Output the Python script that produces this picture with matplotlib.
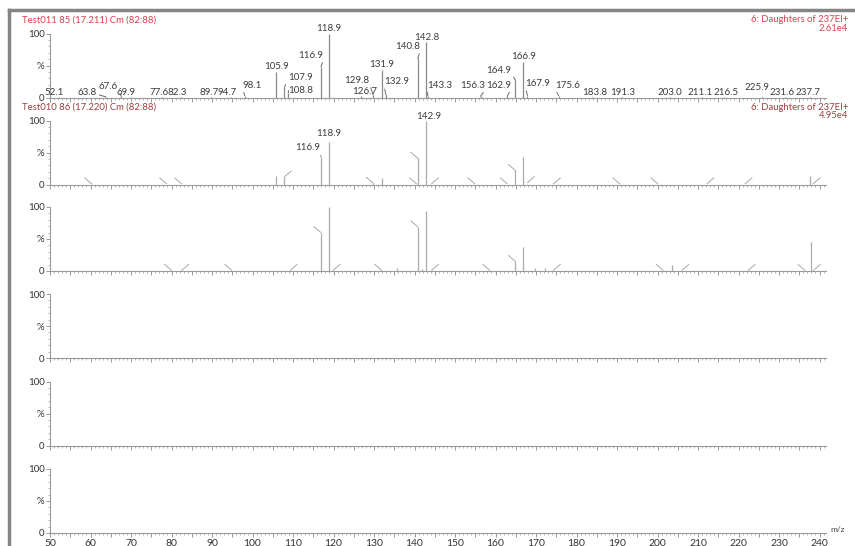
import matplotlib
matplotlib.use('Agg')
import matplotlib.pyplot as plt
from matplotlib.ticker import MultipleLocator, FuncFormatter
from matplotlib.lines import Line2D

plt.rcParams['font.family'] = ['Lato', 'DejaVu Sans']

# ---- data: panel 1 (Test011 85), labelled spectrum ----
p1_mz = [52.1, 63.8, 67.6, 69.9, 77.6, 82.3, 89.7, 94.7, 98.1, 105.9, 107.9, 108.8,
         116.9, 118.9, 126.7, 129.8, 131.9, 132.9, 140.8, 142.8, 143.3, 156.3, 162.9,
         164.9, 166.9, 167.9, 175.6, 183.8, 191.3, 203.0, 211.1, 216.5, 225.9, 231.6, 237.7]
p1_int = [1, 1, 2, 1, 1, 1, 1, 1, 3, 40, 16, 7,
          48, 100, 2, 4, 43, 5, 61, 86, 3, 2, 2,
          27, 55, 3, 3, 1, 1, 1, 1, 1, 1, 1, 1]
p1_labels = ['52.1', '63.8', '67.6', '69.9', '77.6', '82.3', '89.7', '94.7', '98.1', '105.9',
             '107.9', '108.8', '116.9', '118.9', '126.7', '129.8', '131.9', '132.9', '140.8',
             '142.8', '143.3', '156.3', '162.9', '164.9', '166.9', '167.9', '175.6', '183.8',
             '191.3', '203.0', '211.1', '216.5', '225.9', '231.6', '237.7']

# ---- panel 2 (Test010 86) ----
p2_mz = [105.9, 107.9, 116.9, 118.9, 129.8, 131.9, 140.8, 142.9, 164.9, 166.9, 237.7]
p2_int = [14, 12, 43, 67, 2, 10, 41, 100, 22, 43, 14]
p2_labels = {116.9: '116.9', 118.9: '118.9', 142.9: '142.9'}
lead2_mz = [60.3, 78.8, 82.5, 107.9, 129.8, 140.8, 140.5, 144.2, 154.9, 162.9, 164.9,
            167.9, 174.3, 190.7, 200.1, 212.2, 221.6, 238.4]
lead2_int = [1, 1, 1, 12, 2, 41, 1, 1, 1, 1, 22, 3, 1, 1, 1, 1, 1, 1]
lead2_dir = [-1, -1, -1, 1, -1, -1, -1, 1, -1, -1, -1, 1, 1, -1, -1, 1, 1, 1]

# ---- panel 3 ----
p3_mz = [116.9, 118.9, 135.8, 140.8, 141.8, 142.8, 164.9, 166.9, 169.8, 172.2, 203.5, 237.8]
p3_int = [60, 100, 5, 69, 3, 94, 15, 37, 4, 5, 10, 46]
lead3_mz = [80.0, 82.5, 94.9, 109.3, 116.9, 119.9, 131.9, 140.8, 144.2, 158.6, 164.9,
            174.3, 201.4, 206.0, 222.4, 236.4, 238.5]
lead3_int = [1, 1, 1, 1, 60, 1, 1, 69, 1, 1, 15, 1, 1, 1, 1, 1, 1]
lead3_dir = [-1, 1, -1, 1, -1, 1, -1, -1, 1, -1, -1, 1, -1, 1, 1, -1, 1]

x_ticks = list(range(50, 241, 10))

# label placement for panel 1: offset (px) of label centre from peak top, leader anchor
p1_offsets = [(-4, 4.5, None), (-19, 4.5, (1, 0.3)), (-13, 10, (1, 0.2)), (-5, 4.5, None),
              (-3, 4.5, None), (-4, 4.5, None), (-2, 4.5, None), (-4, 4.5, None),
              (7, 10.5, (0, 0.2)), (0, 5, None), (16, 10, (0, 0.5)), (13, 2.5, (0, 0.5)),
              (-10, 11.5, (1, 0)), (0, 5, None), (4, 4.5, None), (-16, 14.5, (1, 0)),
              (0, 5, None), (11, 12.5, (0, 0)), (-10, 12, (1, 0)), (1, 5, None),
              (12, 10.5, (0, 0)), (-7.5, 11, (1, 0)), (-9, 11, (1, 0)), (-17, 10, (1, 0.3)),
              (0, 5.5, None), (10.5, 12, (0, 0)), (9, 10.5, (0, 0)), (3, 4.5, None),
              (0, 4.5, None), (0, 4.5, None), (-2, 4.5, None), (2, 4.5, None), (-5, 9, None),
              (-3, 4.5, None), (-2, 4.5, None)]
p2_offsets = {116.9: (-13, 9, (1, 0)), 118.9: (0, 8, None), 142.9: (2, 4, None)}

W, H = 855, 546
fig = plt.figure(figsize=(W / 100, H / 100), dpi=100)

# grey frame (top and left edges of the screenshot window)
frame_kw = dict(transform=fig.transFigure, color='#858585', linewidth=2.5)
fig.add_artist(Line2D([9 / W, 1], [1 - 10 / H, 1 - 10 / H], **frame_kw))
fig.add_artist(Line2D([9 / W, 9 / W], [0, 1 - 10 / H], **frame_kw))

x_left, x_px_per = 50, 4.05
xmin, xmax = 50, 241.5
panel_base = [97.5, 184.5, 271, 358, 445.5, 533]
panel_h = 64

peak_col = '#8a8a8a'
light_col = '#ababab'
label_col = '#3c3c3c'
lab_fs = 7
axes_list = []
for k, y0 in enumerate(panel_base):
    ax = fig.add_axes([x_left / W, 1 - y0 / H, (xmax - xmin) * x_px_per / W, panel_h / H])
    ax.set_xlim(xmin, xmax)
    ax.set_ylim(0, 100)
    ax.patch.set_alpha(0)
    for s in ['top', 'right']:
        ax.spines[s].set_visible(False)
    for s in ['left', 'bottom']:
        ax.spines[s].set_color('#9a9a9a')
        ax.spines[s].set_linewidth(0.8)
    ax.xaxis.set_major_locator(MultipleLocator(5))
    ax.xaxis.set_minor_locator(MultipleLocator(1))
    ax.yaxis.set_major_locator(MultipleLocator(50))
    ax.yaxis.set_minor_locator(MultipleLocator(10))
    ax.tick_params(axis='x', which='major', length=3, width=0.6, color='#8a8a8a',
                   labelsize=7.5, labelcolor='#333333', pad=1)
    ax.tick_params(axis='x', which='minor', length=1.6, width=0.5, color='#9a9a9a')
    ax.tick_params(axis='y', which='major', length=3, width=0.6, color='#8a8a8a',
                   labelsize=7, labelcolor='#333333', pad=1)
    ax.tick_params(axis='y', which='minor', length=1.5, width=0.5, color='#9a9a9a')
    ax.yaxis.set_major_formatter(FuncFormatter(lambda v, p: {0: '0', 50: '%', 100: '100'}.get(int(v), '')))
    if k == len(panel_base) - 1:
        ax.xaxis.set_major_formatter(FuncFormatter(lambda v, p: str(int(v)) if int(v) in x_ticks else ''))
    else:
        ax.xaxis.set_major_formatter(FuncFormatter(lambda v, p: ''))
    axes_list.append(ax)

ax1, ax2, ax3 = axes_list[0], axes_list[1], axes_list[2]

# panel 1 peaks with labels
ax1.vlines(p1_mz, 0, p1_int, color=peak_col, linewidth=0.9)
for mz, h, lab, (dx, dy, rel) in zip(p1_mz, p1_int, p1_labels, p1_offsets):
    kw = {}
    if rel is not None:
        kw['arrowprops'] = dict(arrowstyle='-', color='#6a6a6a', lw=0.7, shrinkA=0,
                                shrinkB=0, relpos=rel)
    ax1.annotate(lab, xy=(mz, h), xytext=(dx, dy), textcoords='offset pixels',
                 ha='center', va='center', fontsize=lab_fs, color=label_col, **kw)

# panel 2
ax2.vlines(p2_mz, 0, p2_int, color=light_col, linewidth=0.9)
for mz, h in zip(p2_mz, p2_int):
    if mz in p2_labels:
        dx, dy, rel = p2_offsets[mz]
        kw = {}
        if rel is not None:
            kw['arrowprops'] = dict(arrowstyle='-', color='#8a8a8a', lw=0.7, shrinkA=0,
                                    shrinkB=0, relpos=rel)
        ax2.annotate(p2_labels[mz], xy=(mz, h), xytext=(dx, dy), textcoords='offset pixels',
                     ha='center', va='center', fontsize=lab_fs, color=label_col, **kw)

# panel 3
ax3.vlines(p3_mz, 0, p3_int, color=light_col, linewidth=0.9)

# leader lines left behind by hidden labels
for ax, lmz, lint, ldir in [(ax2, lead2_mz, lead2_int, lead2_dir),
                            (ax3, lead3_mz, lead3_int, lead3_dir)]:
    for mz, h, d in zip(lmz, lint, ldir):
        ax.annotate('', xy=(mz, h), xytext=(7 * d, 6), textcoords='offset pixels',
                    arrowprops=dict(arrowstyle='-', color='#a8a8a8', lw=0.7,
                                    shrinkA=0, shrinkB=0))

# header texts
red1 = '#d8414f'
red2 = '#9e3d3d'
hdr_fs = 6.8
fig.text(22 / W, 1 - 20 / H, 'Test011 85 (17.211) Cm (82:88)', color=red1, fontsize=hdr_fs,
         ha='left', va='center')
fig.text(848 / W, 1 - 20 / H, '6: Daughters of 237EI+', color=red1, fontsize=hdr_fs,
         ha='right', va='center')
fig.text(848 / W, 1 - 28.5 / H, '2.61e4', color=red1, fontsize=hdr_fs, ha='right', va='center')
fig.text(22 / W, 1 - 107 / H, 'Test010 86 (17.220) Cm (82:88)', color=red2, fontsize=hdr_fs,
         ha='left', va='center')
fig.text(848 / W, 1 - 107 / H, '6: Daughters of 237EI+', color=red2, fontsize=hdr_fs,
         ha='right', va='center')
fig.text(848 / W, 1 - 115.5 / H, '4.95e4', color=red2, fontsize=hdr_fs, ha='right', va='center')

fig.text(838 / W, 1 - 530 / H, 'm/z', color='#444444', fontsize=6, ha='center', va='center')

fig.savefig('out.png', dpi=100)
